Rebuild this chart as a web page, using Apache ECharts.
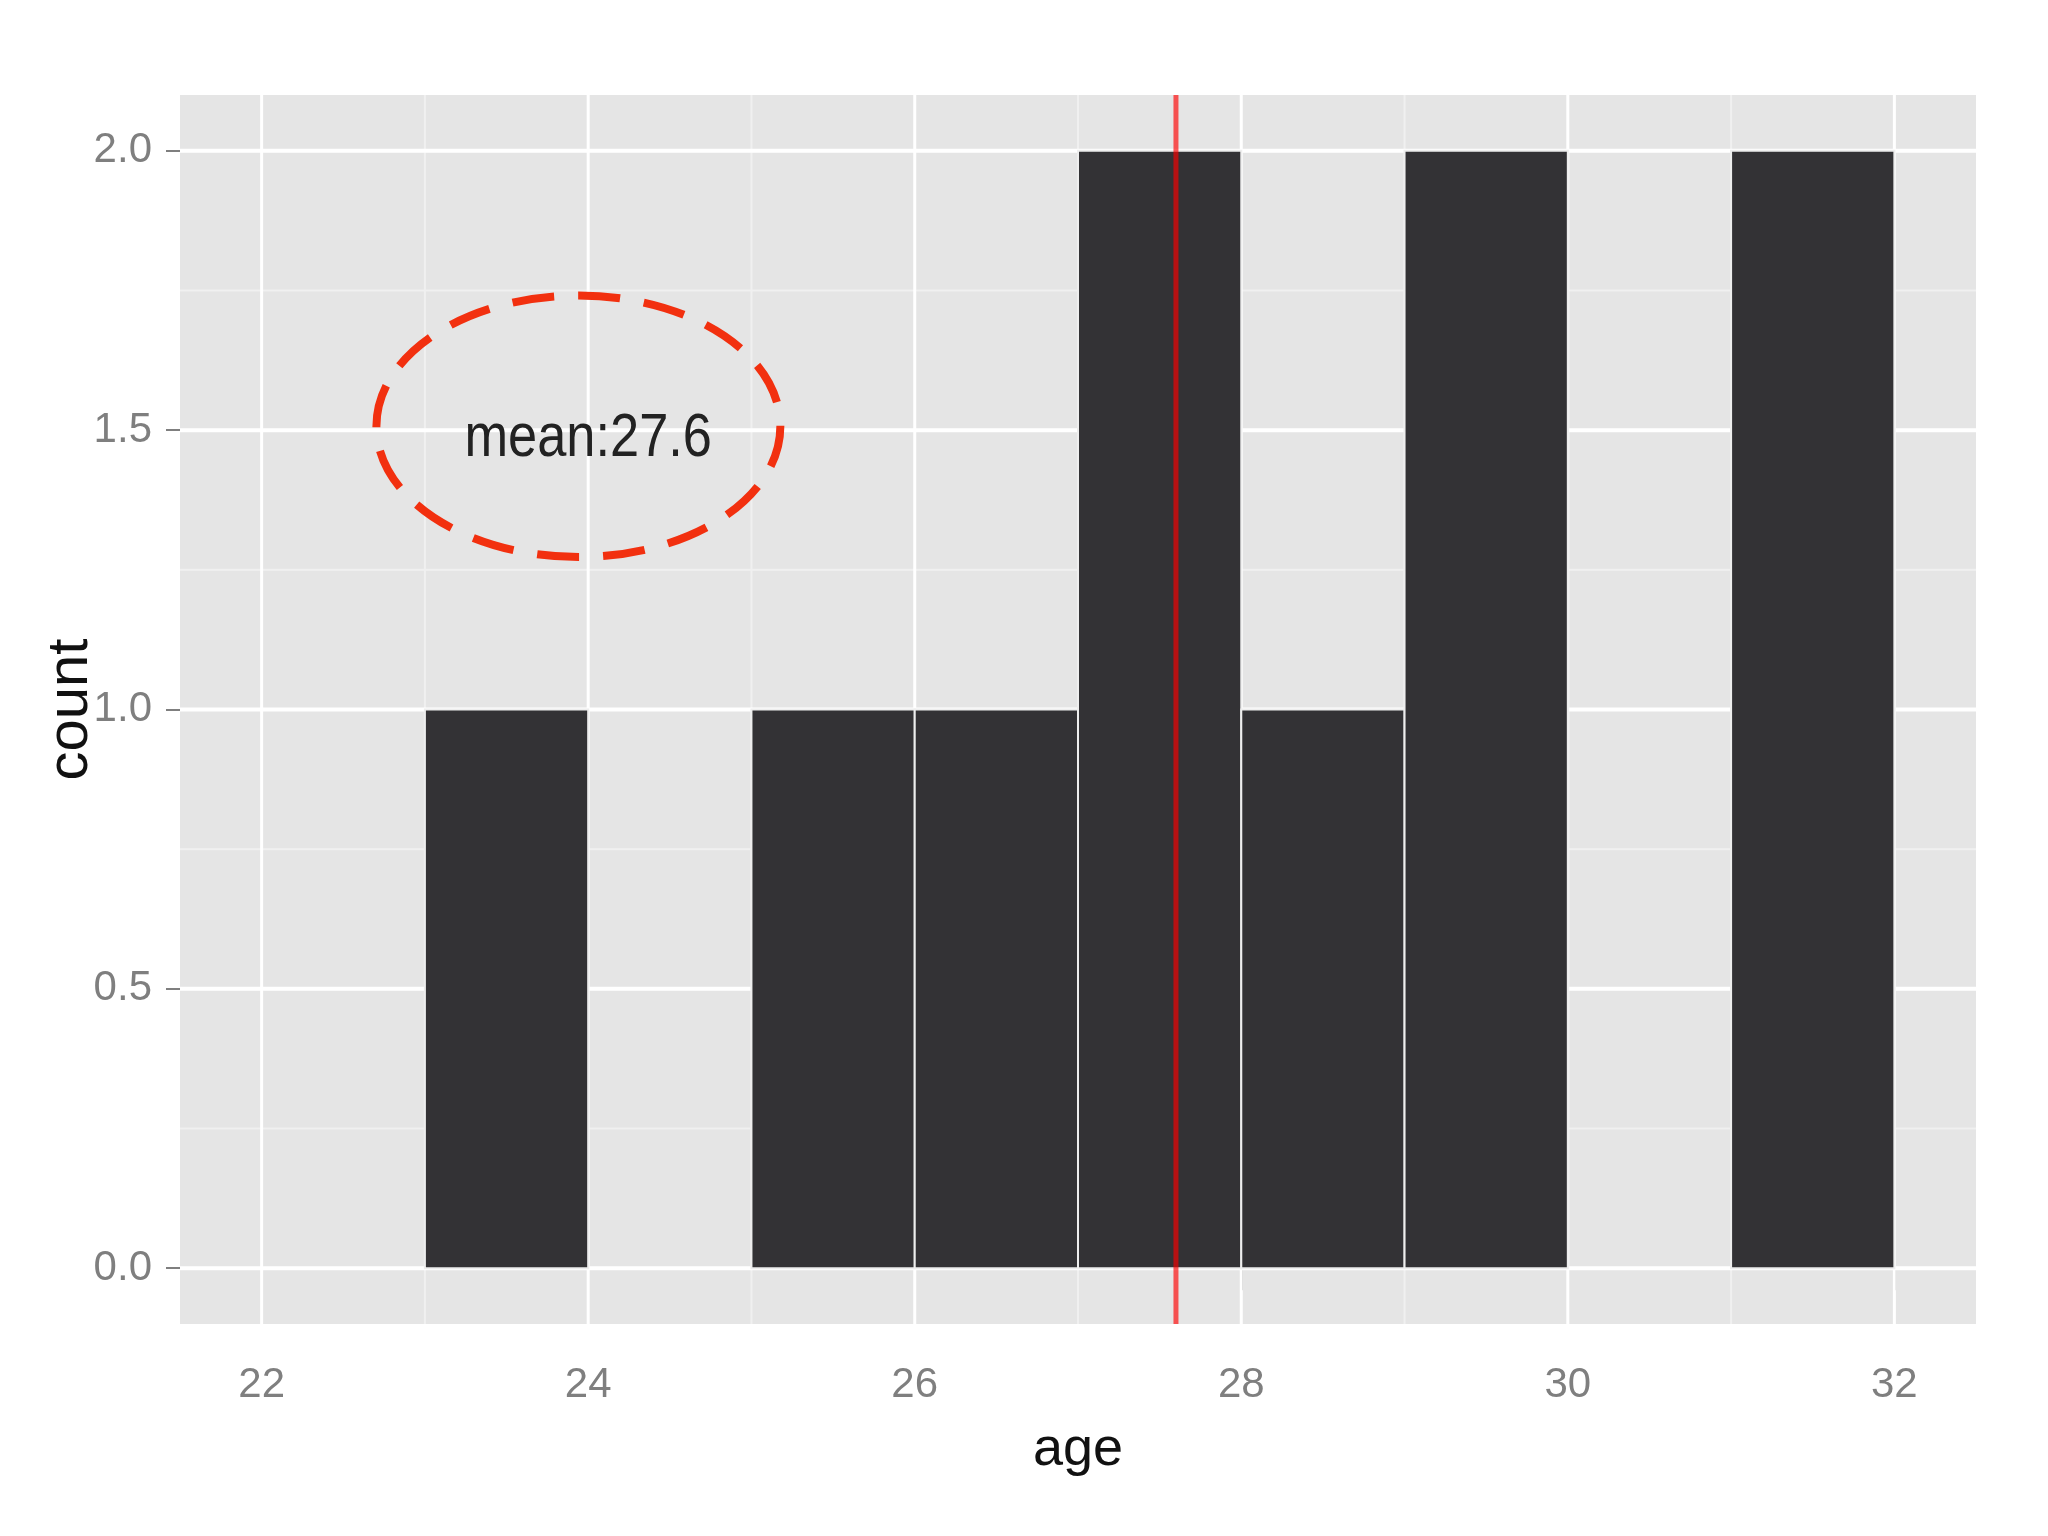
<!DOCTYPE html>
<html>
<head>
<meta charset="utf-8">
<title>age histogram</title>
<script src="https://cdn.jsdelivr.net/npm/echarts@6/dist/echarts.min.js"></script>
<style>
  html, body { margin: 0; padding: 0; background: #fff; }
  #chart { width: 2048px; height: 1536px; }
</style>
</head>
<body>
<div id="chart"></div>
<script>
// histogram bins (width 1) and counts
const binStart = [23, 24, 25, 26, 27, 28, 29, 30, 31]
const binCount = [1, 0, 1, 1, 2, 1, 2, 0, 2]
const binWidth = 1
const meanAge = 27.6

// axis ticks and panel grid
const xTicks = [22, 24, 26, 28, 30, 32]
const xMinor = [23, 25, 27, 29, 31]
const yTicks = [0, 0.5, 1, 1.5, 2]
const yMinor = [0.25, 0.75, 1.25, 1.75]

// annotation
const noteLabel = 'mean:27.6'
const notePos = [24, 1.485]
const ringCenter = [23.94, 1.507]
const ringRadius = [1.237, 0.234]

const font = "'Liberation Sans', Arial, Helvetica, sans-serif"
const tickGrey = '#7f7f7f'

const chart = echarts.init(document.getElementById('chart'))

// vertical / horizontal panel lines drawn through the axis scales
function gridLines (values, dir, color, width) {
  return {
    type: 'custom',
    z: 1,
    silent: true,
    data: values.map(v => [v, v]),
    renderItem (params, api) {
      const cs = params.coordSys
      const v = api.value(0)
      let shape
      if (dir === 'x') {
        const px = api.coord([v, 0])[0]
        shape = { x1: px, y1: cs.y, x2: px, y2: cs.y + cs.height }
      } else {
        const py = api.coord([22, v])[1]
        shape = { x1: cs.x, y1: py, x2: cs.x + cs.width, y2: py }
      }
      return { type: 'line', shape, style: { stroke: color, lineWidth: width } }
    }
  }
}

const option = {
  animation: false,
  backgroundColor: '#ffffff',
  grid: {
    left: 180,
    right: 72,
    top: 95,
    bottom: 212,
    show: true,
    backgroundColor: '#e5e5e5',
    borderWidth: 0
  },
  xAxis: {
    type: 'value',
    min: 21.5,
    max: 32.5,
    name: 'age',
    nameLocation: 'middle',
    nameGap: 99,
    nameTextStyle: { fontSize: 54, color: '#111', fontFamily: font },
    axisLine: { show: false },
    splitLine: { show: false },
    axisTick: { show: true, customValues: xTicks, length: 22, lineStyle: { color: tickGrey, width: 2 } },
    axisLabel: { customValues: xTicks, color: tickGrey, fontSize: 42, margin: 40, fontFamily: font }
  },
  yAxis: {
    type: 'value',
    min: -0.1,
    max: 2.1,
    name: 'count',
    nameLocation: 'middle',
    nameGap: 80,
    nameMoveOverlap: false,
    nameTextStyle: { fontSize: 58, color: '#111', fontFamily: font },
    axisLine: { show: false },
    splitLine: { show: false },
    axisTick: { show: true, customValues: yTicks, length: 14, lineStyle: { color: tickGrey, width: 2 } },
    axisLabel: {
      customValues: yTicks,
      color: tickGrey,
      fontSize: 42,
      margin: 28,
      fontFamily: font,
      formatter: v => v.toFixed(1)
    }
  },
  series: [
    gridLines(xMinor, 'x', '#f0f0f0', 2),
    gridLines(yMinor, 'y', '#f0f0f0', 2),
    gridLines(xTicks, 'x', '#ffffff', 3),
    gridLines(yTicks, 'y', '#ffffff', 4),
    {
      type: 'custom',
      z: 2,
      data: binStart.map((s, i) => [s, s + binWidth, binCount[i]]),
      renderItem (params, api) {
        const n = api.value(2)
        if (!n) return
        const p0 = api.coord([api.value(0), n])
        const p1 = api.coord([api.value(1), 0])
        return {
          type: 'rect',
          shape: { x: p0[0], y: p0[1], width: p1[0] - p0[0], height: p1[1] - p0[1] },
          style: { fill: '#333235', stroke: '#eeeeee', lineWidth: 2 }
        }
      }
    },
    {
      type: 'custom',
      z: 3,
      silent: true,
      data: [[meanAge, 0]],
      renderItem (params, api) {
        const cs = params.coordSys
        const px = api.coord([api.value(0), 0])[0]
        return {
          type: 'line',
          shape: { x1: px, y1: cs.y, x2: px, y2: cs.y + cs.height },
          style: { stroke: 'rgba(255, 0, 0, 0.65)', lineWidth: 5 }
        }
      }
    },
    {
      type: 'custom',
      z: 4,
      silent: true,
      data: [[ringCenter[0], ringCenter[1], ringRadius[0], ringRadius[1]]],
      renderItem (params, api) {
        const c = api.coord([api.value(0), api.value(1)])
        const r = api.size([api.value(2), api.value(3)])
        return {
          type: 'ellipse',
          shape: { cx: c[0], cy: c[1], rx: r[0], ry: r[1] },
          style: { fill: 'none', stroke: '#f2300f', lineWidth: 8, lineDash: [42, 24] }
        }
      }
    },
    {
      type: 'custom',
      z: 4,
      silent: true,
      data: [[notePos[0], notePos[1], noteLabel]],
      renderItem (params, api) {
        const c = api.coord([api.value(0), api.value(1)])
        return {
          type: 'text',
          x: c[0],
          y: c[1],
          scaleX: 0.845,
          style: {
            text: noteLabel,
            x: 0,
            y: 0,
            fill: '#222',
            fontSize: 62,
            fontFamily: font,
            align: 'center',
            verticalAlign: 'middle'
          }
        }
      }
    }
  ]
}

chart.setOption(option)
</script>
</body>
</html>
